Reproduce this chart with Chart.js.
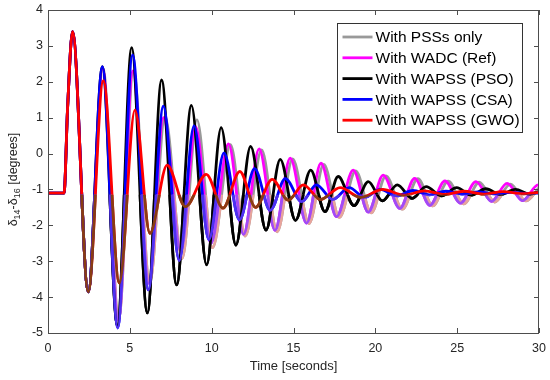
<!DOCTYPE html>
<html>
<head>
<meta charset="utf-8">
<script src="https://cdn.jsdelivr.net/npm/chart.js@4.4.1/dist/chart.umd.min.js"></script>
<style>
  html, body { margin: 0; padding: 0; background: #fff; }
</style>
</head>
<body>
<canvas id="chart" width="550" height="380"></canvas>
<script>
// shared fault transient (all five traces sit on top of each other here)
const startT = [0, 0.98, 1.2, 1.5, 2.46];
const startY = [-1.1, -1.1, 1.3, 3.4, -3.85];

// With PSSs only
const pssT = [3.36, 4.32, 5.22, 6.22, 7.15, 8.2, 9.1, 10.05, 11.15, 12.05, 13.05, 14.0, 14.95, 15.95, 16.85, 17.8, 18.8, 19.75, 20.65, 21.65, 22.6, 23.5, 24.45, 25.4, 26.35, 27.3, 28.25, 29.2, 30];
const pssY = [2.38, -4.6, 2.3, -3.6, 1.02, -2.92, 0.94, -2.62, 0.25, -2.3, 0.1, -2.18, -0.15, -1.95, -0.3, -1.78, -0.48, -1.65, -0.62, -1.55, -0.7, -1.46, -0.77, -1.4, -0.8, -1.35, -0.85, -1.32, -0.95];

// With WADC (Ref)
const wadcT = [3.34, 4.3, 5.18, 6.17, 7.05, 8.12, 9.02, 9.95, 11.03, 11.95, 12.9, 13.87, 14.8, 15.8, 16.68, 17.63, 18.65, 19.57, 20.48, 21.5, 22.4, 23.34, 24.25, 25.2, 26.15, 27.1, 28.05, 29.0, 29.95, 30];
const wadcY = [2.38, -4.65, 2.3, -3.62, 1.0, -2.72, 0.75, -2.5, 0.27, -2.25, 0.13, -2.14, -0.13, -1.94, -0.27, -1.76, -0.46, -1.63, -0.6, -1.53, -0.69, -1.44, -0.76, -1.38, -0.78, -1.33, -0.83, -1.31, -0.87, -0.88];

// With WAPSS (PSO)
const psoT = [3.32, 4.24, 5.11, 6.07, 6.94, 7.86, 8.76, 9.69, 10.58, 11.48, 12.38, 13.32, 14.19, 15.12, 16.05, 16.92, 17.73, 18.7, 19.57, 20.43, 21.34, 22.25, 23.1, 24.05, 24.97, 25.85, 26.75, 27.65, 28.55, 29.45, 30];
const psoY = [2.42, -4.8, 2.95, -4.44, 2.05, -3.66, 1.34, -3.1, 0.72, -2.55, 0.2, -2.13, -0.16, -1.86, -0.46, -1.62, -0.64, -1.45, -0.78, -1.32, -0.87, -1.25, -0.92, -1.18, -0.95, -1.16, -0.98, -1.14, -1.0, -1.13, -1.06];

// With WAPSS (CSA)
const csaT = [3.32, 4.26, 5.17, 6.13, 7.05, 8.02, 8.92, 9.83, 10.75, 11.7, 12.62, 13.58, 14.5, 15.5, 16.4, 17.4, 18.4, 19.35, 20.3, 21.3, 22.3, 23.3, 24.3, 25.3, 26.3, 27.3, 28.3, 29.3, 30];
const csaY = [2.42, -4.86, 2.75, -3.8, 1.32, -2.98, 0.77, -2.4, 0.02, -1.85, -0.42, -1.58, -0.7, -1.34, -0.87, -1.28, -0.95, -1.22, -1.0, -1.18, -1.03, -1.15, -1.05, -1.13, -1.07, -1.12, -1.08, -1.11, -1.1];

// With WAPSS (GWO)
const gwoT = [3.38, 4.36, 5.31, 6.23, 7.28, 8.4, 9.67, 10.69, 11.72, 12.68, 13.7, 14.68, 15.6, 16.65, 17.85, 19.1, 20.45, 21.75, 23.0, 24.2, 25.4, 26.6, 27.8, 29.0, 30];
const gwoY = [2.03, -3.61, 1.21, -2.22, -0.32, -1.48, -0.58, -1.52, -0.5, -1.5, -0.72, -1.3, -0.87, -1.28, -0.95, -1.22, -1.0, -1.16, -1.04, -1.14, -1.05, -1.13, -1.06, -1.12, -1.08];

const xTicks = [0, 5, 10, 15, 20, 25, 30];
const yTicks = [-5, -4, -3, -2, -1, 0, 1, 2, 3, 4];

const FONT = '"Liberation Sans", Arial, Helvetica, sans-serif';
const TEXT_COLOR = '#262626';
const AXIS_COLOR = '#4d4d4d';
const TICK_LEN = 5;
const TINT_BELOW = -1.15;

function points(t, y) {
  const ts = startT.concat(t);
  const ys = startY.concat(y);
  return ts.map((v, i) => ({ x: v, y: ys[i] }));
}

// legend order, top to bottom
const series = [
  { label: 'With PSSs only', t: pssT, y: pssY, color: '#999999', low: '#e8a49c' },
  { label: 'With WADC (Ref)', t: wadcT, y: wadcY, color: '#ff00ff', low: '#a04cf5' },
  { label: 'With WAPSS (PSO)', t: psoT, y: psoY, color: '#000000', low: '#000000' },
  { label: 'With WAPSS (CSA)', t: csaT, y: csaY, color: '#0000ff', low: '#4f30f2' },
  { label: 'With WAPSS (GWO)', t: gwoT, y: gwoY, color: '#ff0000', low: '#8a3c12' },
];

// dataset 0 is painted last in Chart.js, so reverse to keep GWO on top
const datasets = series.slice().reverse().map((s) => ({
  label: s.label,
  data: points(s.t, s.y),
  borderColor: s.color,
  lowColor: s.low,
  borderWidth: 2.8,
  pointRadius: 0,
  fill: false,
  cubicInterpolationMode: 'monotone',
}));

// the exported figure shows the traces in darker tints below about -1
const lowerTint = {
  id: 'lowerTint',
  afterDatasetsDraw(chart) {
    const { ctx, chartArea: a, scales: { y } } = chart;
    const top = y.getPixelForValue(TINT_BELOW);
    ctx.save();
    ctx.beginPath();
    ctx.rect(a.left, top, a.width, a.bottom - top);
    ctx.clip();
    const metas = chart.getSortedVisibleDatasetMetas();
    for (let i = metas.length - 1; i >= 0; i--) {
      const line = metas[i].dataset;
      const orig = line.options;
      line.options = Object.assign({}, orig, { borderColor: chart.data.datasets[metas[i].index].lowColor });
      line.draw(ctx, a);
      line.options = orig;
    }
    ctx.restore();
  },
};

const axisBox = {
  id: 'axisBox',
  afterDraw(chart) {
    const { ctx, chartArea: a, scales: { x, y } } = chart;
    ctx.save();
    ctx.strokeStyle = AXIS_COLOR;
    ctx.lineWidth = 1;
    ctx.beginPath();
    xTicks.forEach((v) => {
      const px = Math.round(x.getPixelForValue(v)) + 0.5;
      ctx.moveTo(px, a.bottom); ctx.lineTo(px, a.bottom - TICK_LEN);
      ctx.moveTo(px, a.top); ctx.lineTo(px, a.top + TICK_LEN);
    });
    yTicks.forEach((v) => {
      const py = Math.round(y.getPixelForValue(v)) + 0.5;
      ctx.moveTo(a.left, py); ctx.lineTo(a.left + TICK_LEN, py);
      ctx.moveTo(a.right, py); ctx.lineTo(a.right - TICK_LEN, py);
    });
    ctx.stroke();
    ctx.strokeRect(Math.round(a.left) + 0.5, Math.round(a.top) + 0.5, Math.round(a.width) - 1, Math.round(a.height));
    ctx.restore();
  },
};

const yTitle = {
  id: 'yTitle',
  afterDraw(chart) {
    const { ctx, chartArea: a } = chart;
    const parts = [['δ', 0], ['14', 1], ['-δ', 0], ['16', 1], [' [degrees]', 0]];
    const big = '12.5px ' + FONT;
    const small = '9px ' + FONT;
    ctx.save();
    let total = 0;
    parts.forEach(([s, sub]) => { ctx.font = sub ? small : big; total += ctx.measureText(s).width; });
    ctx.translate(17, (a.top + a.bottom) / 2 + 8);
    ctx.rotate(-Math.PI / 2);
    ctx.fillStyle = TEXT_COLOR;
    ctx.textBaseline = 'alphabetic';
    let cx = -total / 2;
    parts.forEach(([s, sub]) => {
      ctx.font = sub ? small : big;
      ctx.fillText(s, cx, sub ? 3 : 0);
      cx += ctx.measureText(s).width;
    });
    ctx.restore();
  },
};

const boxLegend = {
  id: 'boxLegend',
  afterDraw(chart) {
    const { ctx } = chart;
    const w = 185, h = 109;
    const x0 = 337.5;
    const y0 = 23.5;
    ctx.save();
    ctx.fillStyle = '#ffffff';
    ctx.fillRect(x0, y0, w, h);
    ctx.strokeStyle = '#333333';
    ctx.lineWidth = 1;
    ctx.strokeRect(x0, y0, w, h);
    ctx.font = '15.5px ' + FONT;
    ctx.textBaseline = 'middle';
    series.forEach((s, i) => {
      const cy = y0 + 13.5 + i * 20.8;
      ctx.strokeStyle = s.color;
      ctx.lineWidth = 2.8;
      ctx.beginPath();
      ctx.moveTo(x0 + 5, cy);
      ctx.lineTo(x0 + 35, cy);
      ctx.stroke();
      ctx.fillStyle = '#000000';
      ctx.fillText(s.label, x0 + 38, cy + 1);
    });
    ctx.restore();
  },
};

new Chart(document.getElementById('chart'), {
  type: 'line',
  data: { datasets },
  options: {
    responsive: false,
    animation: false,
    events: [],
    layout: { padding: { top: 10, right: 11, left: 0, bottom: 0 } },
    plugins: { legend: { display: false }, tooltip: { enabled: false } },
    scales: {
      x: {
        type: 'linear',
        min: 0,
        max: 30,
        afterBuildTicks: (s) => { s.ticks = xTicks.map((v) => ({ value: v })); },
        ticks: { padding: 8, color: TEXT_COLOR, font: { family: FONT, size: 12.5 } },
        grid: { display: false, drawTicks: false },
        border: { display: false },
        title: {
          display: true,
          text: 'Time [seconds]',
          color: TEXT_COLOR,
          font: { family: FONT, size: 13 },
          padding: { top: 0, bottom: 6 },
        },
        afterFit: (s) => { s.height = 47; s.paddingLeft = 0; s.paddingRight = 0; },
      },
      y: {
        min: -5,
        max: 4,
        afterBuildTicks: (s) => { s.ticks = yTicks.map((v) => ({ value: v })); },
        ticks: { padding: 5, color: TEXT_COLOR, font: { family: FONT, size: 12.5 } },
        grid: { display: false, drawTicks: false },
        border: { display: false },
        afterFit: (s) => { s.width = 48; s.paddingTop = 0; s.paddingBottom = 0; },
      },
    },
  },
  plugins: [lowerTint, axisBox, yTitle, boxLegend],
});
</script>
</body>
</html>
